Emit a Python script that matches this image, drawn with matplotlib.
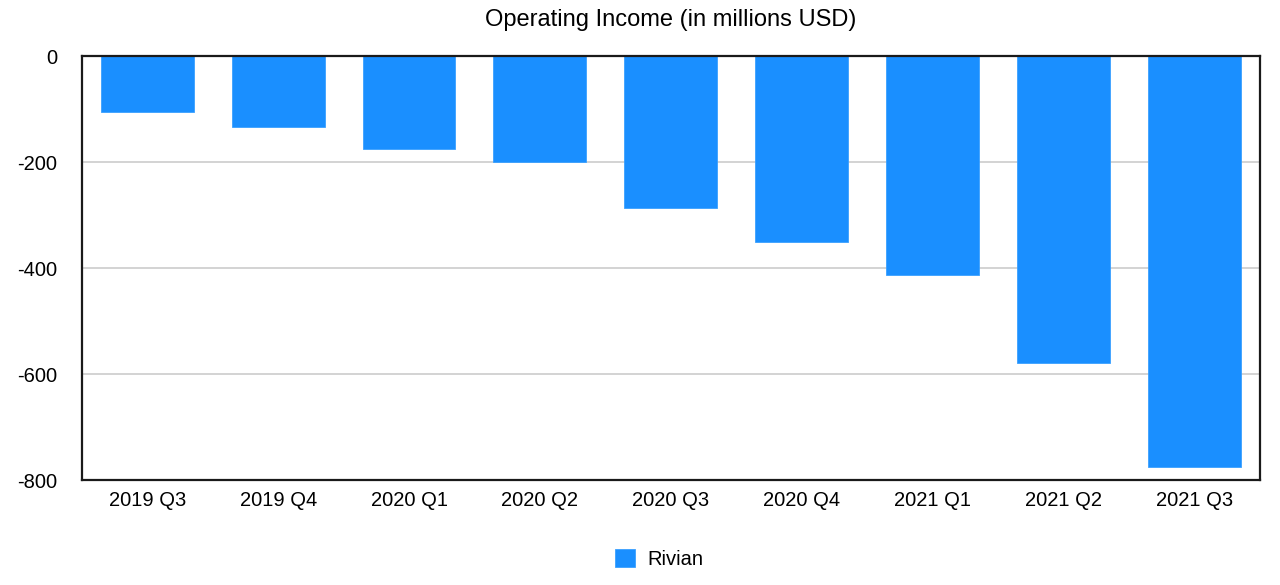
import matplotlib.pyplot as plt
import numpy as np

plt.rcParams['font.family'] = ['Liberation Sans', 'DejaVu Sans']
plt.rcParams['font.size'] = 14

# Data
quarters = ['2019 Q3', '2019 Q4', '2020 Q1', '2020 Q2', '2020 Q3',
            '2020 Q4', '2021 Q1', '2021 Q2', '2021 Q3']
operating_income = [-106, -134, -175, -199, -286, -351, -412, -578, -774]
y_ticks = [0, -200, -400, -600, -800]

bar_color = '#1A8FFF'

fig = plt.figure(figsize=(12.8, 5.85), dpi=100)
ax = fig.add_axes([0.064, 0.179, 0.92, 0.725])

x_pos = np.arange(len(quarters))
ax.bar(x_pos, operating_income, width=0.71, color=bar_color,
       edgecolor='#3aa0ff', linewidth=0.6, label='Rivian', zorder=3)

ax.set_xlim(-0.5, len(quarters) - 0.5)
ax.set_ylim(-800, 0)
ax.set_yticks(y_ticks)
ax.set_yticklabels([str(v) for v in y_ticks])
ax.set_xticks(x_pos)
ax.set_xticklabels(quarters)
ax.tick_params(axis='both', length=0, labelsize=14.5)
ax.tick_params(axis='y', pad=18)
ax.tick_params(axis='x', pad=8)

ax.grid(True, axis='y', color='#cccccc', linewidth=1.2, zorder=0)
ax.set_axisbelow(True)
for side in ['left', 'right', 'top', 'bottom']:
    ax.spines[side].set_linewidth(1.6)
    ax.spines[side].set_color('#1a1a1a')
    ax.spines[side].set_zorder(4)

fig.text(0.524, 0.965, 'Operating Income (in millions USD)', ha='center',
         va='center', fontsize=17)

fig.legend(loc='center', bbox_to_anchor=(0.515, 0.044), frameon=False,
           fontsize=14.5, handlelength=1.0, handleheight=1.0, handletextpad=0.6)

plt.savefig('out.png', dpi=100)
